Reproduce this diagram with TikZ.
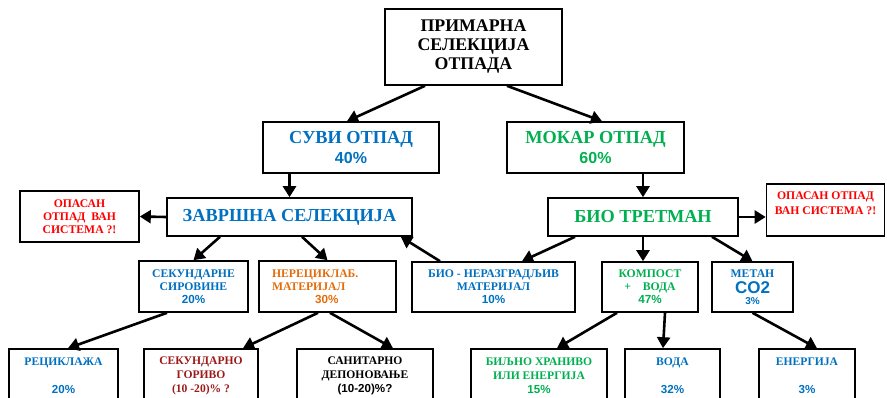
\documentclass[tikz,border=0pt]{standalone}
\usepackage{fontspec}
\setmainfont{Liberation Serif}
\newfontfamily\ar{Liberation Sans}
\usetikzlibrary{arrows.meta}
\definecolor{cblue}{HTML}{0070C0}
\definecolor{cgreen}{HTML}{00B050}
\definecolor{corange}{HTML}{E46C0A}
\definecolor{cred}{HTML}{FF0000}
\definecolor{cdred}{HTML}{9C1A1A}
\tikzset{
  box/.style={draw, line width=1.6pt, inner sep=1pt, align=center, font=\bfseries},
  arr/.style={line width=2.6pt, -{Triangle[length=11pt,width=13pt]}},
  big/.style={font=\bfseries\fontsize{18.3}{20.5}\selectfont},
  mid/.style={font=\bfseries\fontsize{11.7}{13}\selectfont},
  sm/.style={font=\bfseries\fontsize{11.6}{14}\selectfont}
}
\begin{document}
\begin{tikzpicture}[x=1pt,y=-1pt]
\useasboundingbox (0,0) rectangle (887,398);
\clip (0,0) rectangle (887,398);
% level 0
\node[box, minimum width=177, minimum height=76, font=\bfseries\fontsize{17.8}{19}\selectfont] (top) at (473.5,47) {ПРИМАРНА\\СЕЛЕКЦИЈА\\ОТПАДА};
% level 1
\node[box, big, text=cblue, minimum width=176, minimum height=51] (suvi) at (351,147.5) {СУВИ ОТПАД\\{\ar\fontsize{16}{20.5}\selectfont 40\%}};
\node[box, big, text=cgreen, minimum width=177, minimum height=51] (mokar) at (595.5,147.5) {МОКАР ОТПАД\\{\ar\fontsize{16}{20.5}\selectfont 60\%}};
% level 2
\node[box, big, text=cblue, minimum width=245, minimum height=38] (zavrs) at (289.5,217) {ЗАВРШНА СЕЛЕКЦИЈА};
\node[box, big, text=cgreen, minimum width=190, minimum height=38] (bio) at (643,217) {БИО ТРЕТМАН};
\node[box, mid, text=cred, minimum width=119, minimum height=51] (opL) at (79.5,216.5) {ОПАСАН\\ОТПАД\ \ ВАН\\СИСТЕМА ?!};
\node[box, text=cred, minimum width=118, minimum height=52, font=\bfseries\fontsize{11.7}{15}\selectfont] (opR) at (825.5,210) {ОПАСАН ОТПАД\\ВАН СИСТЕМА ?!\\[-2pt]\mbox{}};
% level 3
\node[box, mid, text=cblue, minimum width=109, minimum height=51] (sek) at (193.5,286.5) {СЕКУНДАРНЕ\\СИРОВИНЕ\\{\ar 20\%}};
\node[box, mid, text=corange, minimum width=137, minimum height=51, text width=111pt, align=left] (nerec) at (327.5,286.5) {НЕРЕЦИКЛАБ.\\МАТЕРИЈАЛ\\\hspace*{43pt}{\ar 30\%}};
\node[box, mid, text=cblue, minimum width=163, minimum height=50] (bioner) at (493.5,287) {БИО - НЕРАЗГРАДЉИВ\\МАТЕРИЈАЛ\\{\ar 10\%}};
\node[box, mid, text=cgreen, minimum width=96, minimum height=50] (komp) at (650,287) {КОМПОСТ\\+\quad ВОДА\\{\ar 47\%}};
\node[box, mid, text=cblue, minimum width=81, minimum height=50] (metan) at (752.5,287) {МЕТАН\\[3pt]{\ar\fontsize{17}{16}\selectfont CO2}\\[-2pt]{\ar\fontsize{10}{10}\selectfont 3\%}};
% level 4
\node[box, sm, text=cblue, minimum width=109, minimum height=54] (rec) at (63.5,376) {РЕЦИКЛАЖА\\[14pt]{\ar 20\%}};
\node[box, sm, text=cdred, minimum width=114, minimum height=54] (gor) at (201,376) {СЕКУНДАРНО\\ГОРИВО\\(10 -20)\% ?};
\node[box, sm, text=black, minimum width=136, minimum height=54] (san) at (365,376) {САНИТАРНО\\ДЕПОНОВАЊЕ\\{\ar (10-20)\%?}};
\node[box, sm, text=cgreen, minimum width=136, minimum height=54] (bilj) at (539,376) {БИЉНО ХРАНИВО\\ИЛИ ЕНЕРГИЈА\\{\ar 15\%}};
\node[box, sm, text=cblue, minimum width=95, minimum height=54] (voda) at (672.5,376) {ВОДА\\[14pt]{\ar 32\%}};
\node[box, sm, text=cblue, minimum width=96, minimum height=54] (ener) at (807,376) {ЕНЕРГИЈА\\[14pt]{\ar 3\%}};
% arrows
\draw[arr] ([xshift=-48.5]top.south) -- ([xshift=-4]suvi.north);
\draw[arr] ([xshift=33.5]top.south) -- ([xshift=6.5]mokar.north);
\draw[arr] (zavrs.north |- suvi.south) -- (zavrs.north);
\draw[arr] (bio.north |- mokar.south) -- (bio.north);
\draw[arr] (zavrs.west) -- (opL.east);
\draw[arr] (bio.east) -- (opR.west |- bio.east);
\draw[arr] ([xshift=-69.5]zavrs.south) -- (sek.north);
\draw[arr] ([xshift=12.5]zavrs.south) -- (nerec.north);
\draw[arr] ([xshift=-53.5]bioner.north) -- ([xshift=-12]zavrs.south east);
\draw[arr] ([xshift=-68]bio.south) -- ([xshift=28.5]bioner.north);
\draw[arr] (bio.south) -- (bio.south |- komp.north);
\draw[arr] ([xshift=69]bio.south) -- (metan.north);
\draw[arr] ([xshift=-26.5]sek.south) -- ([xshift=4.5]rec.north);
\draw[arr] ([xshift=-9.5]nerec.south) -- ([xshift=42]gor.north);
\draw[arr] ([xshift=2.5]nerec.south) -- ([xshift=28]san.north);
\draw[arr] ([xshift=-33]komp.south) -- ([xshift=18]bilj.north);
\draw[arr] ([xshift=15]komp.south) -- ([xshift=-9.5]voda.north);
\draw[arr] (metan.south) -- ([xshift=10]ener.north);
\end{tikzpicture}
\end{document}
